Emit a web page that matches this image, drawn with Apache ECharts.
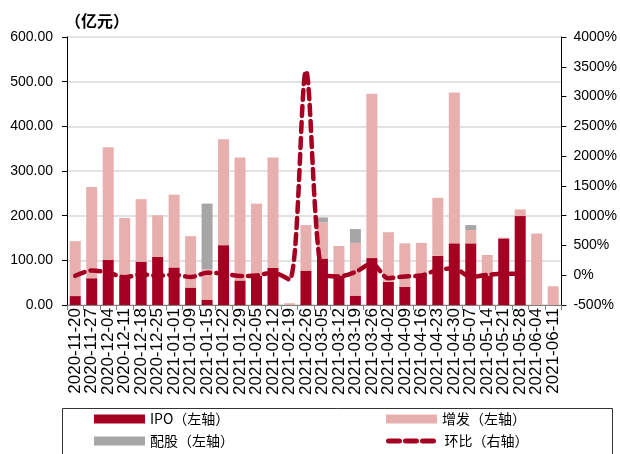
<!DOCTYPE html>
<html>
<head>
<meta charset="utf-8">
<script src="https://cdn.jsdelivr.net/npm/echarts@6/dist/echarts.min.js"></script>
<style>
html,body{margin:0;padding:0;background:#fff;}
#c{width:620px;height:454px;}
</style>
</head>
<body>
<div id="c"></div>
<script>
var categories = ['2020-11-20','2020-11-27','2020-12-04','2020-12-11','2020-12-18','2020-12-25','2021-01-01','2021-01-09','2021-01-15','2021-01-22','2021-01-29','2021-02-05','2021-02-12','2021-02-19','2021-02-26','2021-03-05','2021-03-12','2021-03-19','2021-03-26','2021-04-02','2021-04-09','2021-04-16','2021-04-23','2021-04-30','2021-05-07','2021-05-14','2021-05-21','2021-05-28','2021-06-04','2021-06-11'];
var ipo     = [20, 60, 101, 60, 97, 108, 84, 39, 12, 134, 55, 65, 83, 0, 77, 104, 66, 21, 105, 52, 41, 65, 110, 138, 138, 65, 149, 199, 0, 0];
var zengfa  = [123, 204, 252, 135, 140, 93, 163, 115, 68, 237, 275, 162, 247, 4, 102, 81, 66, 118, 368, 111, 97, 74, 130, 338, 30, 47, 2, 15, 160, 42];
var peigu   = [0, 0, 0, 0, 0, 0, 0, 0, 147, 0, 0, 0, 0, 0, 0, 11, 0, 31, 0, 0, 0, 0, 0, 0, 11, 0, 0, 0, 0, 0];
var huanbi  = [-10, 80, 45, -35, 15, -10, 10, -30, 40, 30, -15, -5, 45, -75, 3430, 15, -20, 55, 195, -50, -20, -5, 90, 115, -30, 5, 25, 25, null, null];
var leftTicks = {min: 0, max: 600, interval: 100};
var rightTicks = {min: -500, max: 4000, interval: 500};

var RED = '#A50021', PINK = '#E8AFAF', GREY = '#A6A6A6';
var chart = echarts.init(document.getElementById('c'), null, {renderer: 'canvas'});
var legendText = {fontSize: 14, color: '#000', fontFamily: 'Noto Sans CJK SC'};
function lg(name, left, top, isLine) {
  var item = isLine
    ? {name: name, itemStyle: {opacity: 0}, lineStyle: {color: RED, width: 5, type: [11, 6], cap: 'round'}}
    : {name: name, icon: 'rect'};
  return {data: [item], left: left, top: top, itemWidth: 51, itemHeight: 9, itemGap: 0, padding: 0,
          textStyle: legendText, selectedMode: false};
}
chart.setOption({
  animation: false,
  backgroundColor: '#fff',
  title: {text: '（亿元）', left: 60, top: 8,
    textStyle: {fontSize: 16, fontWeight: 'bold', color: '#000', fontFamily: 'Noto Sans CJK SC'}},
  grid: {left: 67, right: 55, top: 37, bottom: 149, containLabel: false},
  legend: [lg('IPO（左轴）', 94, 412), lg('增发（左轴）', 386, 412), lg('配股（左轴）', 94, 434), lg('环比（右轴）', 386, 434, true)],
  graphic: [{type: 'rect', shape: {x: 62.5, y: 408.5, width: 550, height: 60},
    style: {fill: 'none', stroke: '#333', lineWidth: 1}, silent: true}],
  xAxis: {type: 'category', data: categories, boundaryGap: true,
    axisLine: {lineStyle: {color: '#808080', width: 1}},
    axisTick: {show: true, length: 5, lineStyle: {color: '#808080'}},
    axisLabel: {rotate: 90, interval: 0, fontSize: 17, color: '#000', margin: 3, fontFamily: 'Liberation Sans'}},
  yAxis: [
    {type: 'value', min: leftTicks.min, max: leftTicks.max, interval: leftTicks.interval, position: 'left',
      axisLine: {show: true, lineStyle: {color: '#000'}},
      axisTick: {show: true, length: 5, lineStyle: {color: '#000'}},
      splitLine: {show: true, lineStyle: {color: '#D9D9D9', width: 1.5}},
      axisLabel: {formatter: function (v) { return v.toFixed(2); }, fontSize: 14, color: '#000', margin: 14, fontFamily: 'Liberation Sans'}},
    {type: 'value', min: rightTicks.min, max: rightTicks.max, interval: rightTicks.interval, position: 'right',
      axisLine: {show: true, lineStyle: {color: '#000'}},
      axisTick: {show: true, length: 5, lineStyle: {color: '#000'}},
      splitLine: {show: false},
      axisLabel: {formatter: function (v) { return v + '%'; }, fontSize: 14, color: '#000', margin: 12, fontFamily: 'Liberation Sans'}}
  ],
  series: [
    {name: 'IPO（左轴）', type: 'bar', stack: 'a', data: ipo, barWidth: 11, itemStyle: {color: RED}},
    {name: '增发（左轴）', type: 'bar', stack: 'a', data: zengfa, barWidth: 11, itemStyle: {color: PINK}},
    {name: '配股（左轴）', type: 'bar', stack: 'a', data: peigu, barWidth: 11, itemStyle: {color: GREY}},
    {name: '环比（右轴）', type: 'line', yAxisIndex: 1, data: huanbi, smooth: 0.3, symbol: 'none', z: 5,
      connectNulls: false,
      lineStyle: {color: RED, width: 4.5, type: [10, 6], cap: 'round'}, itemStyle: {color: RED}}
  ]
});
</script>
</body>
</html>
